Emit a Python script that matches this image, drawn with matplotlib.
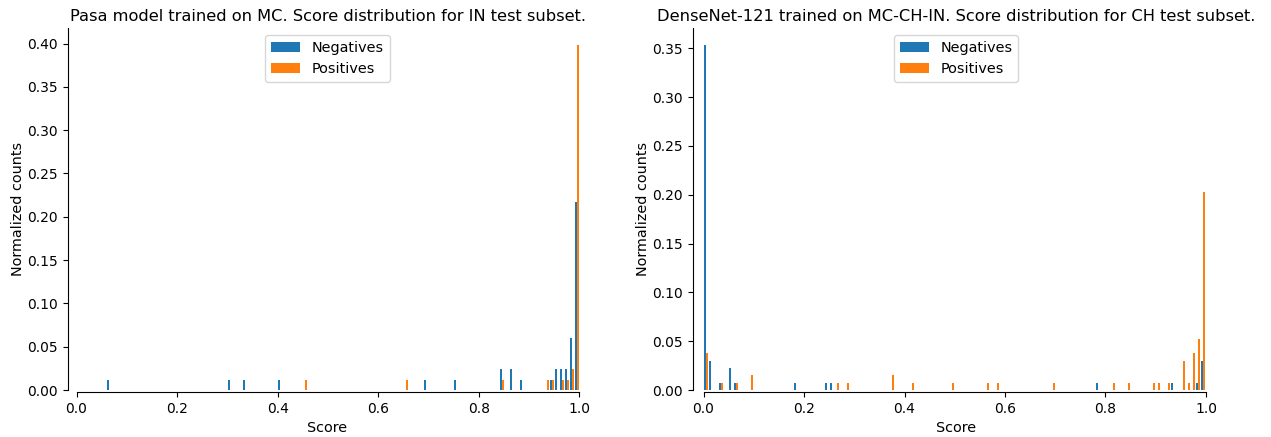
import matplotlib
matplotlib.use("Agg")
import matplotlib.pyplot as plt
import numpy as np

# ---- data (bin centres of score histograms, normalized counts) ----
left_title = "Pasa model trained on MC. Score distribution for IN test subset."
left_neg_scores = [0.065, 0.305, 0.335, 0.405, 0.695, 0.755, 0.845, 0.865, 0.885,
                   0.945, 0.955, 0.965, 0.975, 0.985, 0.995]
left_neg_heights = [0.012, 0.012, 0.012, 0.012, 0.012, 0.012, 0.024, 0.024, 0.012,
                    0.012, 0.024, 0.024, 0.024, 0.060, 0.217]
left_pos_scores = [0.455, 0.655, 0.845, 0.935, 0.945, 0.965, 0.975, 0.985, 0.995]
left_pos_heights = [0.012, 0.012, 0.012, 0.012, 0.012, 0.012, 0.012, 0.024, 0.398]

right_title = "DenseNet-121 trained on MC-CH-IN. Score distribution for CH test subset."
right_neg_scores = [0.005, 0.015, 0.035, 0.055, 0.065, 0.185, 0.245, 0.255, 0.785,
                    0.935, 0.985, 0.995]
right_neg_heights = [0.353, 0.030, 0.0075, 0.0226, 0.0075, 0.0075, 0.0075, 0.0075,
                     0.0075, 0.0075, 0.0075, 0.030]
right_pos_scores = [0.005, 0.035, 0.065, 0.095, 0.265, 0.285, 0.375, 0.415, 0.495,
                    0.565, 0.585, 0.695, 0.815, 0.845, 0.895, 0.905, 0.925, 0.955,
                    0.965, 0.975, 0.985, 0.995]
right_pos_heights = [0.0376, 0.0075, 0.0075, 0.015, 0.0075, 0.0075, 0.015, 0.0075,
                     0.0075, 0.0075, 0.0075, 0.0075, 0.0075, 0.0075, 0.0075, 0.0075,
                     0.0075, 0.030, 0.0075, 0.0376, 0.0526, 0.203]

series_labels = ["Negatives", "Positives"]
x_ticks = [0.0, 0.2, 0.4, 0.6, 0.8, 1.0]
left_y_ticks = [0.00, 0.05, 0.10, 0.15, 0.20, 0.25, 0.30, 0.35, 0.40]
right_y_ticks = [0.00, 0.05, 0.10, 0.15, 0.20, 0.25, 0.30, 0.35]

W, H = 1271, 437
fig = plt.figure(figsize=(W / 100, H / 100), dpi=100)

FS_T = 11.7
FS = 10.4


def make(ax_px, xlim, title, neg_s, neg_h, pos_s, pos_h, yticks):
    l, r, t, b = ax_px
    ax = fig.add_axes([l / W, 1 - b / H, (r - l) / W, (b - t) / H])
    ax.hist([neg_s, pos_s], bins=100, range=(0, 1), weights=[neg_h, pos_h],
            label=series_labels, color=["#1f77b4", "#ff7f0e"])
    ax.set_xlim(*xlim)
    ax.set_xticks(x_ticks)
    ax.set_xticklabels([f"{v:.1f}" for v in x_ticks], fontsize=FS)
    ax.set_yticks(yticks)
    ax.set_yticklabels([f"{v:.2f}" for v in yticks], fontsize=FS)
    ax.set_xlabel("Score", fontsize=FS)
    ax.set_ylabel("Normalized counts", fontsize=FS, labelpad=1.5)
    ax.set_title(title, fontsize=FS_T, pad=5)
    for s in ["top", "right"]:
        ax.spines[s].set_visible(False)
    ax.spines["left"].set_position(("outward", 1.5))
    ax.spines["bottom"].set_position(("outward", 1.5))
    ax.spines["bottom"].set_bounds(0, 1)
    ax.legend(loc="upper center", fontsize=FS)
    return ax


make((70, 585, 28, 390), (-0.013, 1.011), left_title,
     left_neg_scores, left_neg_heights, left_pos_scores, left_pos_heights, left_y_ticks)
make((695, 1217, 28, 390), (-0.017, 1.022), right_title,
     right_neg_scores, right_neg_heights, right_pos_scores, right_pos_heights, right_y_ticks)

fig.savefig("out.png", dpi=100)
